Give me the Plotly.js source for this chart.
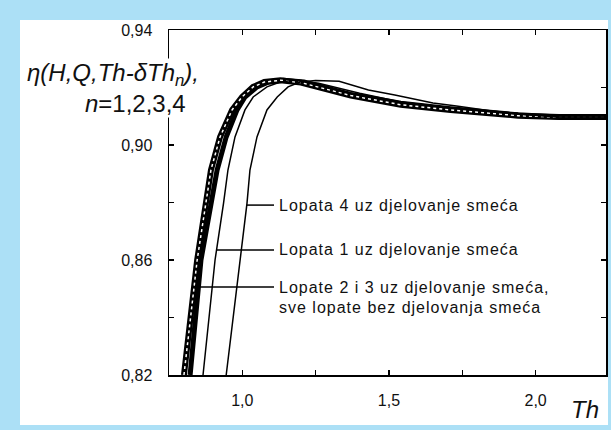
<!DOCTYPE html>
<html>
<head>
<meta charset="utf-8">
<script src="https://cdn.plot.ly/plotly-3.0.1.min.js"></script>
<style>
  html, body { margin: 0; padding: 0; background: #ACE0F6; width: 611px; height: 430px; overflow: hidden; }
  #chart { position: absolute; left: 20px; top: 20px; width: 588px; height: 405px; background: #ffffff; }
  .annotation[data-index="2"] text, .annotation[data-index="3"] text,
  .annotation[data-index="4"] text, .annotation[data-index="5"] text { letter-spacing: 1px; }
</style>
</head>
<body>
<div id="chart"></div>
<script>
// ---- data ----
const xBez   = [0.801, 0.846, 0.893, 0.924, 0.965, 0.999, 1.037, 1.075, 1.13, 1.20, 1.37, 1.54, 1.71, 1.94, 2.08, 2.24];
const yBez   = [0.820, 0.860, 0.8913, 0.9028, 0.9122, 0.9167, 0.9202, 0.9219, 0.9225, 0.9217, 0.9172, 0.9140, 0.9122, 0.9102, 0.9097, 0.9097];

const x23    = [0.822, 0.859, 0.914, 0.945, 0.982, 1.009, 1.050, 1.09, 1.14, 1.21, 1.37, 1.54, 1.71, 1.94, 2.08, 2.24];
const y23    = [0.820, 0.860, 0.8913, 0.9028, 0.9122, 0.9167, 0.9202, 0.9219, 0.9225, 0.9219, 0.9176, 0.9145, 0.9126, 0.9105, 0.9097, 0.9097];

const xL1    = [0.866, 0.897, 0.907, 0.936, 0.951, 0.975, 1.009, 1.037, 1.084, 1.129, 1.18, 1.26, 1.40, 1.54, 1.71, 1.94, 2.08, 2.24];
const yL1    = [0.820, 0.8506, 0.860, 0.8798, 0.8913, 0.9028, 0.9122, 0.9167, 0.9202, 0.9219, 0.9225, 0.9215, 0.9180, 0.9150, 0.9130, 0.9107, 0.9097, 0.9097];

const xL4    = [0.945, 0.982, 0.992, 1.016, 1.026, 1.050, 1.084, 1.119, 1.156, 1.197, 1.25, 1.33, 1.43, 1.52, 1.65, 1.73, 1.85, 1.99, 2.08, 2.24];
const yL4    = [0.820, 0.8506, 0.860, 0.8798, 0.8913, 0.9028, 0.9122, 0.9167, 0.9202, 0.9219, 0.9224, 0.9222, 0.9191, 0.9174, 0.9146, 0.9136, 0.9118, 0.9104, 0.9097, 0.9097];

const labels = [
  "Lopata 4 uz djelovanje smeća",
  "Lopata 1 uz djelovanje smeća",
  "Lopate 2 i 3 uz djelovanje smeća,",
  "sve lopate bez djelovanja smeća"
];
const labelY = [0.8791, 0.8635, 0.8506];

// ---- helpers ----
function xAtY(xs, ys, yv) {
  for (let i = 0; i < ys.length - 1; i++) {
    if ((ys[i] - yv) * (ys[i + 1] - yv) <= 0 && ys[i + 1] !== ys[i]) {
      return xs[i] + (yv - ys[i]) * (xs[i + 1] - xs[i]) / (ys[i + 1] - ys[i]);
    }
  }
  return xs[0];
}

const FONT = "Liberation Sans, Arial, sans-serif";
const labelX = 1.108;

const traces = [
  { x: x23, y: y23, mode: "lines", line: { color: "#000", width: 5 }, hoverinfo: "skip" },
  { x: xBez, y: yBez, mode: "lines", line: { color: "#000", width: 6 }, hoverinfo: "skip" },
  { x: xBez, y: yBez, mode: "lines", line: { color: "#fff", width: 1.5, dash: "dot" }, hoverinfo: "skip" },
  { x: xL1, y: yL1, mode: "lines", line: { color: "#000", width: 1.5 }, hoverinfo: "skip" },
  { x: xL4, y: yL4, mode: "lines", line: { color: "#000", width: 1.5 }, hoverinfo: "skip" }
];

const heads = [xAtY(xL4, yL4, labelY[0]), xAtY(xL1, yL1, labelY[1]), xAtY(x23, y23, labelY[2])];

const shapes = heads.map((hx, i) => ({
  type: "line", xref: "x", yref: "y",
  x0: hx, x1: labelX, y0: labelY[i], y1: labelY[i],
  line: { color: "#000", width: 1.5 }
}));

function lab(i, yv, ys) {
  return { xref: "x", yref: "y", x: labelX, y: yv, xanchor: "left", yanchor: "middle", align: "left",
    xshift: 3, yshift: ys || 0, showarrow: false, text: labels[i],
    font: { family: FONT, size: 16, color: "#111" } };
}

const annotations = [
  { xref: "paper", yref: "paper", x: 0.071, y: 0.832, xanchor: "right", yanchor: "middle", align: "right",
    showarrow: false, bgcolor: "#ffffff", borderpad: 0,
    text: "<i>η(H,Q,Th-δTh<sub>n</sub>),</i><br><i>n</i>=1,2,3,4\u00a0\u00a0",
    font: { family: FONT, size: 24, color: "#111" } },
  { xref: "paper", yref: "paper", x: 0.952, y: -0.10, xanchor: "center", yanchor: "middle",
    showarrow: false, text: "<i>Th</i>", font: { family: FONT, size: 24, color: "#111" } },
  lab(0, labelY[0]),
  lab(1, labelY[1]),
  lab(2, labelY[2]),
  lab(3, labelY[2], -20)
];

const layout = {
  width: 588, height: 405,
  margin: { l: 149, r: 2, t: 10, b: 50 },
  paper_bgcolor: "#ffffff", plot_bgcolor: "#ffffff",
  showlegend: false,
  separators: ", ",
  font: { family: FONT, color: "#111" },
  xaxis: {
    range: [0.75, 2.24], tick0: 1.0, dtick: 0.5, tickformat: ".1f",
    ticks: "inside", ticklen: 5, tickwidth: 1.2, tickcolor: "#000",
    minor: { dtick: 0.25, tick0: 1.0, ticks: "inside", ticklen: 5, tickwidth: 1.2, tickcolor: "#000", showgrid: false },
    showline: true, linecolor: "#000", linewidth: 1.5, mirror: "ticks",
    showgrid: false, zeroline: false, ticklabelstandoff: 10,
    tickfont: { family: FONT, size: 16, color: "#111" }
  },
  yaxis: {
    range: [0.82, 0.94], tick0: 0.82, dtick: 0.04, tickformat: ".2f",
    ticks: "inside", ticklen: 5, tickwidth: 1.2, tickcolor: "#000",
    minor: { dtick: 0.02, tick0: 0.82, ticks: "inside", ticklen: 5, tickwidth: 1.2, tickcolor: "#000", showgrid: false },
    showline: true, linecolor: "#000", linewidth: 1.5, mirror: "ticks",
    showgrid: false, zeroline: false, ticklabelstandoff: 12,
    tickfont: { family: FONT, size: 16, color: "#111" }
  },
  shapes: shapes,
  annotations: annotations
};

Plotly.newPlot("chart", traces, layout, { displayModeBar: false, staticPlot: true });
</script>
</body>
</html>
